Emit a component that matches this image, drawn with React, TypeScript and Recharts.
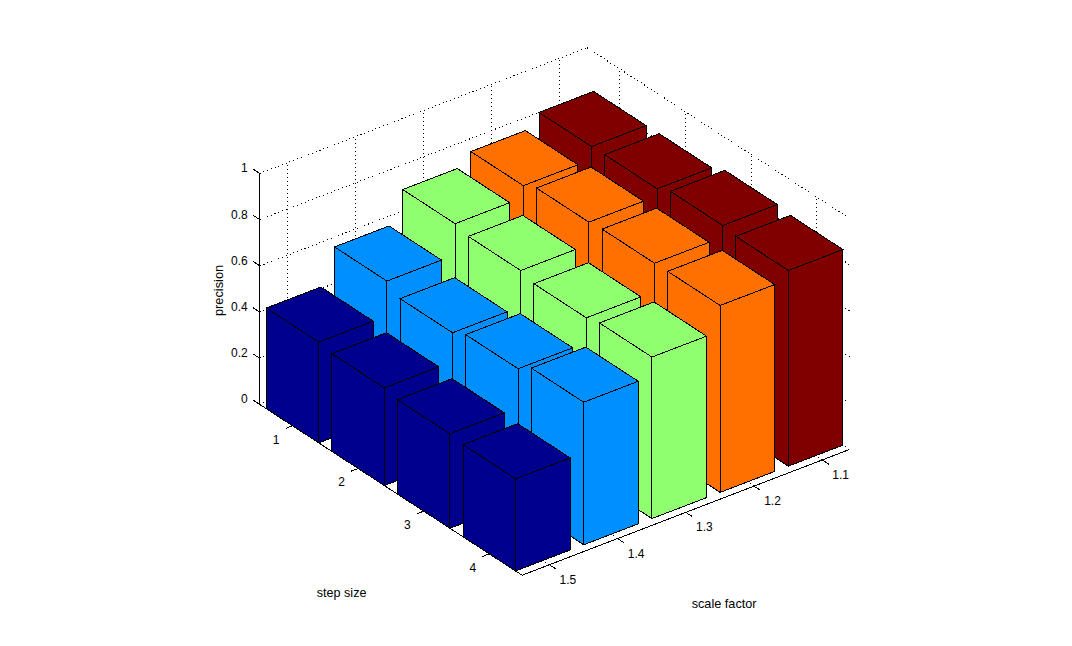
import React from 'react';
import { ScatterChart, Scatter, XAxis, YAxis } from 'recharts';

const stepSizes = [1, 2, 3, 4];
const scaleFactors = ['1.5', '1.4', '1.3', '1.2', '1.1'];
const precisionTicks = [0, 0.2, 0.4, 0.6, 0.8, 1];

// precision per step size (1..4), one list per scale factor
const precisionAt15 = [0.436, 0.423, 0.409, 0.399];
const precisionAt14 = [0.587, 0.548, 0.577, 0.617];
const precisionAt13 = [0.722, 0.704, 0.684, 0.699];
const precisionAt12 = [0.773, 0.8, 0.807, 0.809];
const precisionAt11 = [0.829, 0.831, 0.857, 0.847];
const precisionByScale = [precisionAt15, precisionAt14, precisionAt13, precisionAt12, precisionAt11];
const colors = ['#00008F', '#008FFF', '#8FFF70', '#FF7000', '#800000'];

const WIDTH = 1072;
const HEIGHT = 646;
const BAR = 0.4;
const R_MIN = 0.5, R_MAX = 4.5, C_MIN = 0.6, C_MAX = 5.4;

// orthographic view of the 3D axes box
const project = (r: number, c: number, z: number) => ({
  px: 186 + 65.6 * r + 68.2 * c,
  py: 398.8 + 42.7 * r - 26.2 * c - 231 * z,
});

const polygon = (fill: string) => (p: any) => (
  <polygon
    points={p.points.map((q: any) => `${q.x},${q.y}`).join(' ')}
    fill={fill}
    stroke="#000"
    strokeWidth={1}
    strokeLinejoin="miter"
    shapeRendering="crispEdges"
  />
);

const polyline = (dash?: string) => (p: any) => (
  <polyline
    points={p.points.map((q: any) => `${q.x},${q.y}`).join(' ')}
    fill="none"
    stroke="#000"
    strokeWidth={1}
    strokeDasharray={dash}
    shapeRendering="crispEdges"
  />
);

const noMark = () => <g />;

const seg = (key: string, a: number[], b: number[], dash?: string) => (
  <Scatter
    key={key}
    data={[project(a[0], a[1], a[2]), project(b[0], b[1], b[2])]}
    line={polyline(dash)}
    shape={noMark}
    isAnimationActive={false}
  />
);

const DOT = '1 3';
const gridLines: React.ReactNode[] = [];
precisionTicks.forEach((z, i) => {
  gridLines.push(seg(`zl${i}`, [R_MIN, C_MIN, z], [R_MIN, C_MAX, z], DOT));
  gridLines.push(seg(`zr${i}`, [R_MIN, C_MAX, z], [R_MAX, C_MAX, z], DOT));
});
scaleFactors.forEach((_, i) => {
  const c = i + 1;
  gridLines.push(seg(`cw${i}`, [R_MIN, c, 0], [R_MIN, c, 1], DOT));
  gridLines.push(seg(`cf${i}`, [R_MIN, c, 0], [R_MAX, c, 0], DOT));
});
stepSizes.forEach((r) => {
  gridLines.push(seg(`rw${r}`, [r, C_MAX, 0], [r, C_MAX, 1], DOT));
  gridLines.push(seg(`rf${r}`, [r, C_MIN, 0], [r, C_MAX, 0], DOT));
});

const axisLines: React.ReactNode[] = [
  seg('axz', [R_MIN, C_MIN, 0], [R_MIN, C_MIN, 1]),
  seg('axr', [R_MIN, C_MIN, 0], [R_MAX, C_MIN, 0]),
  seg('axc', [R_MAX, C_MIN, 0], [R_MAX, C_MAX, 0]),
];
precisionTicks.forEach((z, i) => axisLines.push(seg(`tz${i}`, [R_MIN, C_MIN, z], [R_MIN - 0.1, C_MIN, z])));
stepSizes.forEach((r) => axisLines.push(seg(`tr${r}`, [r, C_MIN, 0], [r, C_MIN - 0.1, 0])));
scaleFactors.forEach((_, i) => axisLines.push(seg(`tc${i}`, [R_MAX, i + 1, 0], [R_MAX + 0.1, i + 1, 0])));

const bars: React.ReactNode[] = [];
for (let ci = scaleFactors.length - 1; ci >= 0; ci--) {
  const c = ci + 1;
  stepSizes.forEach((r, ri) => {
    const z = precisionByScale[ci][ri];
    const r0 = r - BAR, r1 = r + BAR, c0 = c - BAR, c1 = c + BAR;
    const faces = [
      [[r0, c0, z], [r1, c0, z], [r1, c0, 0], [r0, c0, 0]],
      [[r1, c0, z], [r1, c1, z], [r1, c1, 0], [r1, c0, 0]],
      [[r0, c0, z], [r0, c1, z], [r1, c1, z], [r1, c0, z]],
    ];
    faces.forEach((f, fi) => {
      bars.push(
        <Scatter
          key={`b${ci}-${ri}-${fi}`}
          data={f.map((v) => project(v[0], v[1], v[2]))}
          line={polygon(colors[ci])}
          shape={noMark}
          isAnimationActive={false}
        />,
      );
    });
  });
}

const FONT = '"Liberation Sans", Arial, sans-serif';

const label = (text: string, dx: number, dy: number, anchor: string, size: number, rotate = 0) => (p: any) => (
  <text
    x={p.cx + dx}
    y={p.cy + dy}
    fontFamily={FONT}
    fontSize={size}
    fill="#000"
    textAnchor={anchor}
    dominantBaseline="central"
    transform={rotate ? `rotate(${rotate} ${p.cx + dx} ${p.cy + dy})` : undefined}
  >
    {text}
  </text>
);

const textAt = (key: string, text: string, at: number[], dx: number, dy: number, anchor: string, size = 12, rotate = 0) => (
  <Scatter
    key={key}
    data={[project(at[0], at[1], at[2])]}
    shape={label(text, dx, dy, anchor, size, rotate)}
    isAnimationActive={false}
  />
);

const labels: React.ReactNode[] = [];
precisionTicks.forEach((z, i) => labels.push(textAt(`lz${i}`, String(z), [R_MIN, C_MIN, z], -12, -5, 'end')));
stepSizes.forEach((r) => labels.push(textAt(`lr${r}`, String(r), [r, C_MIN, 0], -16.5, 14, 'middle')));
scaleFactors.forEach((s, i) => labels.push(textAt(`lc${i}`, s, [R_MAX, i + 1, 0], 18.5, 15, 'middle')));
labels.push(textAt('xt', 'step size', [R_MAX, C_MIN, 0], -180.5, 18, 'middle', 12.6));
labels.push(textAt('yt', 'scale factor', [R_MAX, C_MIN, 0], 202, 29, 'middle', 12.7));
labels.push(textAt('zt', 'precision', [R_MIN, C_MIN, 0.5], -41, 1.5, 'middle', 12.8, -90));

export default function App() {
  return (
    <div style={{ position: 'absolute', left: 0, top: 0, width: WIDTH, height: HEIGHT, background: '#fff', overflow: 'hidden' }}>
      <ScatterChart width={WIDTH} height={HEIGHT} margin={{ top: 0, right: 0, bottom: 0, left: 0 }}>
        <XAxis type="number" dataKey="px" domain={[0, WIDTH]} hide />
        <YAxis type="number" dataKey="py" domain={[0, HEIGHT]} reversed hide />
        {gridLines}
        {axisLines}
        {bars}
        {labels}
      </ScatterChart>
    </div>
  );
}
